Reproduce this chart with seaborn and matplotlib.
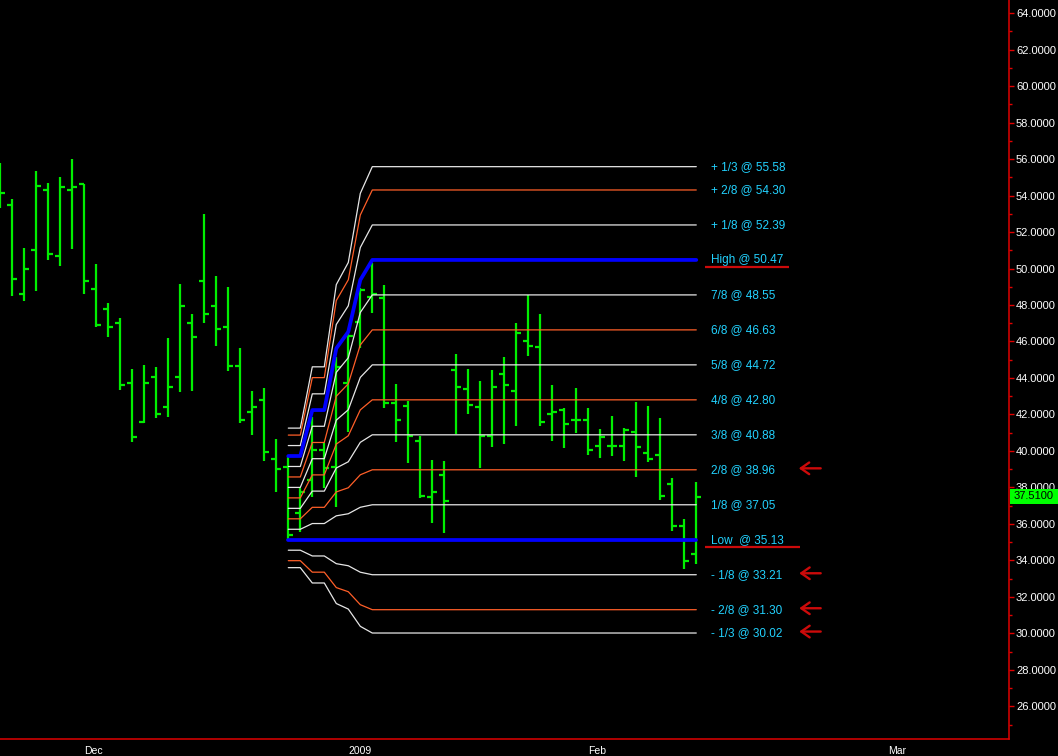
import numpy as np
import pandas as pd
import matplotlib
matplotlib.use("Agg")
import matplotlib.pyplot as plt
import matplotlib.transforms as mtransforms
from matplotlib.patches import Rectangle
from matplotlib.ticker import MultipleLocator, FuncFormatter
import seaborn as sns

# ---------------- data ----------------
bar_open = [55.20, 53.46, 48.58, 50.99, 54.28, 50.66, 54.28, 54.63, 48.85, 47.76,
            46.99, 43.75, 41.61, 44.03, 42.38, 44.03, 46.99, 49.29, 47.92, 46.82,
            44.63, 42.16, 42.77, 39.54, 39.13, 36.60, 38.40, 40.05, 39.13, 43.70,
            47.05, 48.45, 48.41, 42.60, 42.45, 40.57, 37.50, 38.70, 44.46, 43.37,
            42.43, 40.84, 44.19, 43.26, 46.05, 45.67, 42.00, 42.22, 41.67, 41.72,
            40.29, 40.29, 40.29, 41.01, 39.86, 39.75, 38.16, 35.91, 34.37]
bar_high = [55.76, 53.79, 51.12, 55.34, 54.68, 55.01, 56.00, 54.63, 50.24, 48.10,
            47.28, 44.48, 44.70, 44.59, 46.18, 49.14, 47.50, 52.98, 49.58, 48.98,
            45.63, 43.27, 43.43, 40.63, 39.72, 37.98, 41.87, 40.41, 45.13, 46.53,
            48.91, 50.28, 49.09, 43.66, 42.73, 40.81, 39.49, 39.43, 45.30, 44.48,
            43.82, 44.43, 45.14, 47.00, 48.56, 47.50, 43.60, 42.34, 43.44, 42.34,
            41.19, 41.90, 41.23, 42.67, 42.45, 41.79, 38.50, 36.25, 38.28]
bar_low = [53.33, 48.50, 48.23, 48.78, 50.48, 50.15, 51.08, 48.61, 46.80, 46.25,
           43.35, 40.49, 41.53, 41.81, 41.86, 43.24, 43.29, 47.02, 45.76, 44.39,
           41.53, 40.88, 39.46, 37.76, 35.13, 35.57, 37.49, 37.95, 36.94, 41.05,
           45.62, 47.54, 42.36, 40.49, 39.34, 37.42, 36.05, 35.50, 40.92, 42.03,
           39.07, 40.22, 40.38, 41.37, 45.21, 41.37, 40.55, 40.16, 40.99, 39.78,
           39.61, 39.72, 39.45, 38.57, 39.40, 37.33, 35.63, 33.51, 33.80]
bar_close = [54.12, 49.40, 49.95, 54.50, 50.77, 54.45, 54.45, 49.29, 46.93, 46.77,
             43.64, 40.79, 43.70, 42.05, 43.53, 47.97, 46.27, 47.48, 46.71, 44.63,
             41.67, 42.38, 39.94, 38.99, 35.37, 37.73, 40.05, 39.04, 44.58, 46.30,
             48.82, 48.60, 42.60, 41.67, 40.84, 37.55, 37.77, 37.28, 43.53, 42.54,
             40.84, 43.53, 43.64, 46.49, 45.73, 41.56, 42.16, 41.45, 41.67, 40.07,
             40.79, 40.29, 41.17, 40.19, 39.53, 37.55, 35.91, 33.99, 37.50]

x_tick_pos = [7, 29, 49, 74]
x_tick_labels = ["Dec", "2009", "Feb", "Mar"]

# Murrey-style range anchor (running range high from bar 24, then held flat)
anchor_start = 24
anchor_end = 58
anchor_high = [39.72, 39.72, 42.24, 42.24, 45.62, 46.53, 49.37, 50.47]
anchor_low = 35.13

level_fracs = [4/3, 10/8, 9/8, 1.0, 7/8, 6/8, 5/8, 4/8, 3/8, 2/8, 1/8, 0.0, -1/8, -2/8, -1/3]
level_kinds = ["w", "o", "w", "b", "w", "o", "w", "o", "w", "o", "w", "b", "w", "o", "w"]
level_labels = ["+ 1/3 @ 55.58", "+ 2/8 @ 54.30", "+ 1/8 @ 52.39", "High @ 50.47",
                "7/8 @ 48.55", "6/8 @ 46.63", "5/8 @ 44.72", "4/8 @ 42.80",
                "3/8 @ 40.88", "2/8 @ 38.96", "1/8 @ 37.05", "Low  @ 35.13",
                "- 1/8 @ 33.21", "- 2/8 @ 31.30", "- 1/3 @ 30.02"]
underlined = ["High @ 50.47", "Low  @ 35.13"]
arrowed = ["2/8 @ 38.96", "- 1/8 @ 33.21", "- 2/8 @ 31.30", "- 1/3 @ 30.02"]
last_price = 37.51

# ---------------- style ----------------
sns.set_theme(style="dark", rc={
    "axes.facecolor": "black", "figure.facecolor": "black",
    "axes.edgecolor": "#e00000", "axes.grid": False,
    "xtick.color": "#e00000", "ytick.color": "#e00000",
    "xtick.labelcolor": "white", "ytick.labelcolor": "white",
})
plt.rcParams["font.family"] = ["Liberation Sans", "DejaVu Sans"]

C_WHITE = "#e6e6e6"
C_ORANGE = "#ff5f28"
C_BLUE = "#0000ff"
C_GREEN = "#00ee00"
C_CYAN = "#22d2ff"
C_RED = "#cc0a0a"

W, H = 1058, 756
fig = plt.figure(figsize=(W / 100, H / 100), dpi=100)
ax = fig.add_axes([0, (H - 739.3) / H, 1009 / W, 739.3 / H])
ax.set_facecolor("black")

ax.set_xlim(-0.025, 84.06)
ax.set_ylim(24.19, 64.72)

# ---------------- OHLC bars ----------------
xi = np.arange(len(bar_high))
tick_w = 0.42
ax.vlines(xi, bar_low, bar_high, color=C_GREEN, linewidth=1.6, zorder=2)
ax.hlines(bar_open, xi - tick_w, xi, color=C_GREEN, linewidth=1.6, zorder=2)
ax.hlines(bar_close, xi, xi + tick_w, color=C_GREEN, linewidth=1.6, zorder=2)

# ---------------- level lines ----------------
n_lv = anchor_end - anchor_start + 1
hi = np.array(anchor_high + [anchor_high[-1]] * (n_lv - len(anchor_high)))
lo = np.full(n_lv, anchor_low)
rng = hi - lo
lv_x = np.arange(anchor_start, anchor_end + 1)

rows = []
for lab, frac, kind in zip(level_labels, level_fracs, level_kinds):
    vals = lo + frac * rng
    for xx, vv in zip(lv_x, vals):
        rows.append({"bar": xx, "value": vv, "level": lab, "kind": kind})
df = pd.DataFrame(rows)

style = {"w": (C_WHITE, 0.9), "o": (C_ORANGE, 0.9), "b": (C_BLUE, 2.7)}
for kind in ["w", "o", "b"]:
    col, lw = style[kind]
    sub = df[df["kind"] == kind]
    sns.lineplot(data=sub, x="bar", y="value", units="level", estimator=None,
                 color=col, linewidth=lw, ax=ax, zorder=3, legend=False)

# ---------------- level labels ----------------
label_x = anchor_end + 1.2
for lab, frac in zip(level_labels, level_fracs):
    v = anchor_low + frac * (anchor_high[-1] - anchor_low)
    ax.text(label_x, v, lab, color=C_CYAN, fontsize=8.5, va="center", ha="left",
            zorder=5)
    if lab in underlined:
        x1 = label_x + (6.55 if lab.startswith("High") else 7.45)
        ax.plot([label_x - 0.45, x1], [v - 0.40, v - 0.40], color=C_RED,
                linewidth=1.6, solid_capstyle="butt", zorder=5)
    if lab in arrowed:
        ax.annotate("", xy=(label_x + 6.9 + 0.25 * len(lab) / 13, v + 0.08),
                    xytext=(label_x + 9.4, v + 0.08),
                    arrowprops=dict(arrowstyle="->,head_length=0.5,head_width=0.35",
                                    color=C_RED, linewidth=1.7),
                    zorder=5)

# ---------------- axes / ticks ----------------
ax.set_xlabel("")
ax.set_ylabel("")
for s in ["left", "top"]:
    ax.spines[s].set_visible(False)
for s in ["right", "bottom"]:
    ax.spines[s].set_color("#e00000")
    ax.spines[s].set_linewidth(1.1)

ax.yaxis.tick_right()
ax.yaxis.set_major_locator(MultipleLocator(2))
ax.yaxis.set_minor_locator(MultipleLocator(1))
ax.yaxis.set_major_formatter(FuncFormatter(lambda v, p: f"{v:.4f}"))
ax.tick_params(axis="y", which="major", length=3.5, width=1, pad=1.5,
               labelsize=8, labelcolor="white", colors="#e00000")
ax.tick_params(axis="y", which="minor", length=1.8, width=1, colors="#e00000")
for lbl in ax.get_yticklabels():
    lbl.set_color("white")

ax.set_xticks(x_tick_pos)
ax.set_xticklabels(x_tick_labels)
ax.tick_params(axis="x", which="major", length=3.5, width=1, pad=1.5,
               labelsize=7.5, colors="#e00000", labelcolor="white")
for lbl in ax.get_xticklabels():
    lbl.set_horizontalalignment("left")
    lbl.set_color("white")

# ---------------- last price box ----------------
trans = mtransforms.blended_transform_factory(ax.transAxes, ax.transData)
box = Rectangle((1.0008, last_price - 0.40), 0.0475, 0.80, transform=trans,
                facecolor="#00ff00", edgecolor="none", clip_on=False, zorder=6)
ax.add_patch(box)
ax.text(1.024, last_price, f"{last_price:.4f}", transform=trans, color="black",
        fontsize=8, ha="center", va="center", clip_on=False, zorder=7)

fig.savefig("out.png", dpi=100, facecolor="black")
